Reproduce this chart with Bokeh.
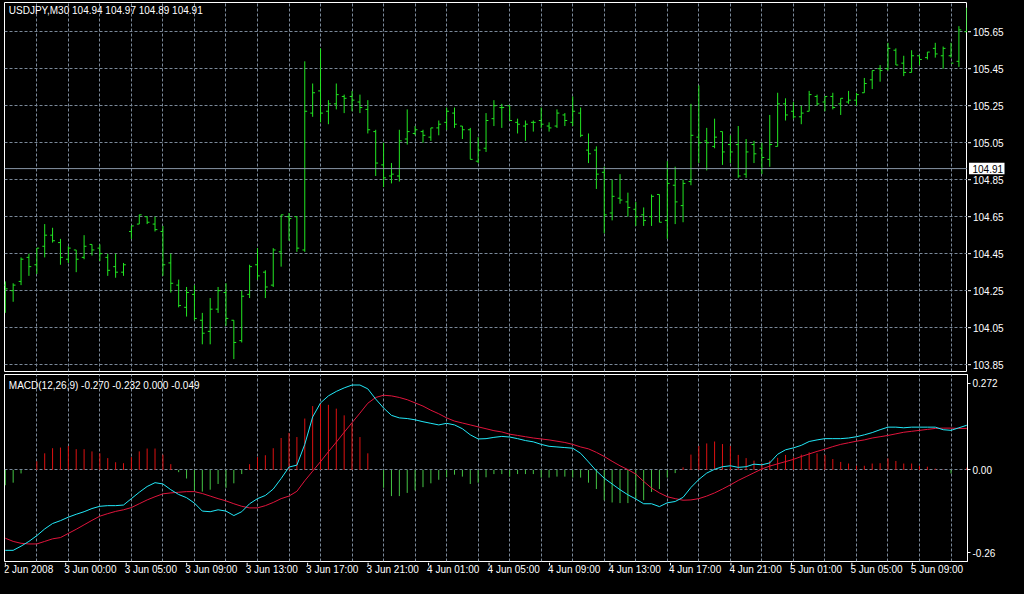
from bokeh.plotting import figure
from bokeh.layouts import column, row
from bokeh.models import (FixedTicker, Range1d, Span, Label, Grid)
from bokeh.embed import file_html
from bokeh.resources import INLINE

# ---------------- data (USDJPY M30 bars) ----------------
bar_open = [104.28, 104.25, 104.30, 104.43, 104.39, 104.49, 104.55, 104.51, 104.42, 104.47,
            104.43, 104.50, 104.48, 104.43, 104.38, 104.35, 104.57, 104.61, 104.65, 104.61,
            104.57, 104.40, 104.28, 104.16, 104.23, 104.09, 104.03, 104.15, 104.24, 104.09,
            103.98, 104.23, 104.39, 104.35, 104.28, 104.46, 104.65, 104.65, 104.47, 105.21,
            105.33, 105.22, 105.26, 105.30, 105.30, 105.27, 105.23, 105.11, 104.93, 104.87,
            104.87, 105.07, 105.10, 105.11, 105.08, 105.13, 105.16, 105.21, 105.14, 105.12,
            104.95, 105.02, 105.18, 105.24, 105.25, 105.16, 105.14, 105.16, 105.17, 105.14,
            105.14, 105.20, 105.16, 105.21, 105.01, 105.01, 104.89, 104.67, 104.75, 104.73,
            104.69, 104.66, 104.65, 104.77, 104.63, 104.82, 104.71, 104.84, 105.08, 105.06,
            105.03, 105.11, 105.04, 105.04, 104.88, 105.04, 105.02, 104.96, 105.03, 105.26,
            105.22, 105.19, 105.22, 105.30, 105.27, 105.30, 105.26, 105.27, 105.28, 105.32,
            105.39, 105.45, 105.45, 105.55, 105.48, 105.43, 105.52, 105.51, 105.56, 105.52,
            105.52, 105.49, 105.65]
bar_high = [104.30, 104.29, 104.43, 104.45, 104.48, 104.61, 104.59, 104.53, 104.49, 104.47,
            104.55, 104.50, 104.50, 104.45, 104.45, 104.40, 104.60, 104.66, 104.65, 104.65,
            104.60, 104.45, 104.31, 104.27, 104.28, 104.13, 104.21, 104.27, 104.29, 104.09,
            104.25, 104.39, 104.48, 104.36, 104.48, 104.66, 104.67, 104.65, 105.49, 105.37,
            105.56, 105.28, 105.37, 105.31, 105.33, 105.31, 105.28, 105.12, 105.05, 104.94,
            105.12, 105.23, 105.14, 105.12, 105.13, 105.17, 105.24, 105.24, 105.14, 105.13,
            105.08, 105.21, 105.28, 105.26, 105.25, 105.18, 105.17, 105.17, 105.24, 105.16,
            105.23, 105.21, 105.30, 105.24, 105.10, 105.03, 104.92, 104.85, 104.88, 104.78,
            104.73, 104.70, 104.77, 104.77, 104.95, 104.92, 104.85, 105.26, 105.36, 105.13,
            105.18, 105.11, 105.09, 105.14, 105.07, 105.06, 105.05, 105.20, 105.32, 105.29,
            105.27, 105.25, 105.33, 105.31, 105.30, 105.32, 105.29, 105.33, 105.32, 105.40,
            105.44, 105.47, 105.59, 105.56, 105.52, 105.55, 105.52, 105.54, 105.59, 105.57,
            105.59, 105.68, 105.78]
bar_low = [104.13, 104.19, 104.28, 104.33, 104.34, 104.43, 104.51, 104.39, 104.40, 104.35,
           104.42, 104.44, 104.41, 104.33, 104.32, 104.33, 104.53, 104.61, 104.61, 104.57,
           104.33, 104.24, 104.16, 104.11, 104.09, 103.96, 103.96, 104.13, 104.06, 103.88,
           103.97, 104.21, 104.31, 104.21, 104.27, 104.38, 104.52, 104.46, 104.46, 105.19,
           105.16, 105.15, 105.23, 105.21, 105.22, 105.21, 105.10, 104.87, 104.81, 104.83,
           104.84, 105.04, 105.09, 105.05, 105.06, 105.09, 105.12, 105.13, 105.07, 104.96,
           104.94, 105.00, 105.14, 105.13, 105.17, 105.10, 105.06, 105.11, 105.13, 105.11,
           105.13, 105.14, 105.14, 105.08, 104.94, 104.80, 104.56, 104.63, 104.72, 104.65,
           104.60, 104.60, 104.60, 104.62, 104.53, 104.61, 104.62, 104.82, 104.94, 104.90,
           105.02, 104.93, 104.94, 104.86, 104.86, 104.94, 104.88, 104.92, 105.03, 105.17,
           105.18, 105.15, 105.22, 105.25, 105.22, 105.23, 105.20, 105.26, 105.25, 105.32,
           105.34, 105.38, 105.44, 105.47, 105.41, 105.43, 105.47, 105.50, 105.51, 105.45,
           105.51, 105.46, 105.65]
bar_close = [104.26, 104.28, 104.42, 104.38, 104.48, 104.55, 104.52, 104.43, 104.48, 104.42,
             104.49, 104.47, 104.45, 104.36, 104.35, 104.39, 104.60, 104.66, 104.62, 104.58,
             104.39, 104.29, 104.17, 104.24, 104.10, 104.02, 104.15, 104.25, 104.10, 103.97,
             104.22, 104.38, 104.33, 104.27, 104.47, 104.66, 104.64, 104.48, 105.22, 105.32,
             105.21, 105.26, 105.31, 105.29, 105.28, 105.24, 105.12, 104.94, 104.86, 104.88,
             105.06, 105.11, 105.12, 105.09, 105.13, 105.15, 105.22, 105.15, 105.12, 104.96,
             105.01, 105.17, 105.25, 105.24, 105.17, 105.15, 105.15, 105.16, 105.15, 105.13,
             105.21, 105.17, 105.22, 105.09, 104.99, 104.88, 104.66, 104.76, 104.74, 104.70,
             104.65, 104.63, 104.76, 104.62, 104.83, 104.73, 104.83, 105.09, 105.05, 105.05,
             105.08, 105.00, 105.00, 104.87, 105.00, 104.99, 104.97, 105.04, 105.26, 105.20,
             105.19, 105.21, 105.31, 105.26, 105.30, 105.24, 105.29, 105.28, 105.31, 105.37,
             105.44, 105.44, 105.56, 105.47, 105.43, 105.52, 105.50, 105.54, 105.53, 105.56,
             105.48, 105.66, 105.65]

macd_main = [-0.252, -0.252, -0.239, -0.224, -0.206, -0.185, -0.168, -0.159, -0.148, -0.139,
             -0.131, -0.121, -0.114, -0.112, -0.112, -0.110, -0.090, -0.070, -0.052, -0.040,
             -0.044, -0.062, -0.077, -0.087, -0.104, -0.129, -0.131, -0.125, -0.129, -0.143,
             -0.131, -0.106, -0.090, -0.080, -0.060, -0.027, 0.009, 0.015, 0.080, 0.166,
             0.210, 0.232, 0.246, 0.257, 0.266, 0.266, 0.254, 0.222, 0.194, 0.171,
             0.163, 0.161, 0.157, 0.151, 0.146, 0.141, 0.146, 0.141, 0.129, 0.110,
             0.097, 0.098, 0.102, 0.105, 0.103, 0.098, 0.092, 0.088, 0.080, 0.074,
             0.072, 0.070, 0.068, 0.052, 0.025, -0.003, -0.026, -0.044, -0.062, -0.078,
             -0.091, -0.106, -0.106, -0.115, -0.103, -0.099, -0.086, -0.055, -0.030, -0.010,
             0.002, 0.010, 0.013, 0.008, 0.010, 0.018, 0.016, 0.022, 0.049, 0.063,
             0.069, 0.077, 0.089, 0.094, 0.098, 0.098, 0.098, 0.100, 0.104, 0.110,
             0.117, 0.126, 0.134, 0.134, 0.132, 0.134, 0.134, 0.134, 0.134, 0.126,
             0.124, 0.132, 0.140]
macd_signal = [-0.214, -0.224, -0.230, -0.232, -0.232, -0.224, -0.216, -0.212, -0.199, -0.186,
               -0.172, -0.158, -0.145, -0.137, -0.130, -0.125, -0.118, -0.106, -0.094, -0.084,
               -0.075, -0.072, -0.070, -0.068, -0.068, -0.074, -0.082, -0.090, -0.097, -0.106,
               -0.114, -0.119, -0.119, -0.112, -0.102, -0.090, -0.082, -0.067, -0.034, -0.004,
               0.026, 0.057, 0.087, 0.118, 0.148, 0.178, 0.209, 0.227, 0.234, 0.232,
               0.227, 0.220, 0.210, 0.200, 0.187, 0.176, 0.163, 0.153, 0.147, 0.141,
               0.135, 0.129, 0.123, 0.119, 0.112, 0.108, 0.104, 0.100, 0.097, 0.094,
               0.090, 0.086, 0.080, 0.072, 0.066, 0.055, 0.042, 0.027, 0.013, 0.001,
               -0.013, -0.036, -0.057, -0.072, -0.084, -0.090, -0.095, -0.094, -0.090, -0.082,
               -0.072, -0.060, -0.047, -0.033, -0.021, -0.009, 0.003, 0.012, 0.019, 0.026,
               0.033, 0.042, 0.050, 0.058, 0.065, 0.073, 0.080, 0.085, 0.090, 0.094,
               0.100, 0.104, 0.108, 0.113, 0.118, 0.121, 0.124, 0.127, 0.130, 0.131,
               0.131, 0.130, 0.130]
macd_hist = [-0.048, -0.040, -0.011, 0.000, 0.027, 0.052, 0.068, 0.070, 0.075, 0.065,
             0.065, 0.058, 0.052, 0.037, 0.024, 0.021, 0.040, 0.058, 0.067, 0.067,
             0.048, 0.018, -0.007, -0.027, -0.064, -0.068, -0.062, -0.044, -0.056, -0.042,
             -0.013, 0.018, 0.040, 0.046, 0.068, 0.100, 0.116, 0.103, 0.161, 0.200,
             0.210, 0.204, 0.192, 0.171, 0.146, 0.103, 0.052, 0.000, -0.056, -0.082,
             -0.082, -0.072, -0.064, -0.054, -0.042, -0.031, -0.023, -0.015, -0.021, -0.044,
             -0.040, -0.023, -0.013, -0.013, -0.021, -0.013, -0.013, -0.013, -0.024, -0.024,
             -0.021, -0.021, -0.024, -0.024, -0.040, -0.060, -0.095, -0.102, -0.104, -0.104,
             -0.090, -0.095, -0.069, -0.060, -0.024, -0.010, 0.008, 0.048, 0.075, 0.083,
             0.089, 0.081, 0.075, 0.047, 0.037, 0.029, 0.021, 0.029, 0.038, 0.047,
             0.040, 0.048, 0.055, 0.052, 0.047, 0.034, 0.025, 0.020, 0.013, 0.013,
             0.020, 0.021, 0.036, 0.028, 0.020, 0.020, 0.013, 0.010, 0.004, 0.001,
             -0.011, 0.000, 0.007]

price_ticks = [103.85, 104.05, 104.25, 104.45, 104.65, 104.85, 105.05, 105.25, 105.45, 105.65]
price_tick_labels = ["103.85", "104.05", "104.25", "104.45", "104.65", "104.85", "105.05",
                     "105.25", "105.45", "105.65"]
macd_ticks = [-0.26, 0.0, 0.272]
macd_tick_labels = ["-0.26", "0.00", "0.272"]
time_tick_bars = [0, 8, 16, 24, 32, 40, 48, 56, 64, 72, 80, 88, 96, 104, 112, 120]
time_tick_labels = ["2 Jun 2008", "3 Jun 00:00", "3 Jun 05:00", "3 Jun 09:00", "3 Jun 13:00",
                    "3 Jun 17:00", "3 Jun 21:00", "4 Jun 01:00", "4 Jun 05:00", "4 Jun 09:00",
                    "4 Jun 13:00", "4 Jun 17:00", "4 Jun 21:00", "5 Jun 01:00", "5 Jun 05:00",
                    "5 Jun 09:00"]
grid_bars = list(range(4, 121, 4))
bid_price = 104.91
bid_label = "104.91"
title_main = "USDJPY,M30  104.94 104.97 104.89 104.91"
title_macd = "MACD(12,26,9) -0.270 -0.232 0.000 -0.049"

# ---------------- styling ----------------
BG = "#000000"
GRID = "#7a8899"
BAR = "#22e622"
CYAN = "#22e8f8"
SIGNAL = "#e0143c"
HIST_UP = "#dd1111"
HIST_DN = "#44c444"
FONT = "Liberation Sans"
FS = "10px"
TFS = "10px"

n = len(bar_close)
idx = list(range(n))
FRAME_W = 963
X0, X1 = -0.1, n - 1 + 0.09
PX_PER_BAR = FRAME_W / (X1 - X0)
x_rng = Range1d(X0, X1)
y_price = Range1d(103.813, 105.808)


def add_grids(p, yticks):
    p.grid.visible = False
    p.add_layout(Grid(dimension=0, ticker=FixedTicker(ticks=grid_bars), grid_line_color=GRID,
                      grid_line_dash="3 2", grid_line_width=1))
    p.add_layout(Grid(dimension=1, ticker=FixedTicker(ticks=yticks), grid_line_color=GRID,
                      grid_line_dash="3 2", grid_line_width=1))


# ---------------- price panel ----------------
p1 = figure(width=4 + FRAME_W, height=372, x_range=x_rng, y_range=y_price,
            y_axis_location=None, x_axis_location=None,
            output_backend="svg", toolbar_location=None,
            min_border_left=4, min_border_right=0, min_border_top=2, min_border_bottom=1,
            background_fill_color=BG, border_fill_color=BG, outline_line_color="white")
add_grids(p1, price_ticks)
p1.add_layout(Span(location=bid_price, dimension="width", line_color="#8796a6", line_width=1))

x_open = [i - 0.3 for i in idx]
x_close = [i + 0.3 for i in idx]
p1.segment(x0=idx, y0=bar_low, x1=idx, y1=bar_high, line_color=BAR, line_width=1)
p1.segment(x0=x_open, y0=bar_open, x1=idx, y1=bar_open, line_color=BAR, line_width=1)
p1.segment(x0=idx, y0=bar_close, x1=x_close, y1=bar_close, line_color=BAR, line_width=1)

p1.add_layout(Label(x=0.45, y=105.765, text=title_main, text_color="white", text_font=FONT,
                    text_font_size=TFS, text_baseline="middle", text_align="left"))

# price scale strip (right of the price panel), x in pixels
AX_W = 1008 - (4 + FRAME_W)
p1r = figure(width=AX_W, height=372, x_range=Range1d(0, AX_W), y_range=y_price,
             y_axis_location=None, x_axis_location=None,
             output_backend="svg", toolbar_location=None,
             min_border_left=0, min_border_right=0, min_border_top=2, min_border_bottom=1,
             background_fill_color=BG, border_fill_color=BG, outline_line_color=None)
p1r.grid.visible = False
p1r.segment(x0=[0.5] * len(price_ticks), y0=price_ticks, x1=[3.5] * len(price_ticks),
            y1=price_ticks, line_color="white", line_width=1)
p1r.text(x=[5.5] * len(price_ticks), y=price_ticks, text=price_tick_labels,
         text_color="white", text_font={"value": FONT}, text_font_size={"value": FS},
         text_baseline="middle", text_align="left")
p1r.quad(left=[1.5], right=[37.0], bottom=[bid_price - 0.031], top=[bid_price + 0.031],
         fill_color="white", line_color=None)
p1r.text(x=[5.0], y=[bid_price], text=[bid_label], text_color="black",
         text_font={"value": FONT}, text_font_size={"value": FS},
         text_baseline="middle", text_align="left")

# ---------------- MACD panel ----------------
p2 = figure(width=1008, height=190, x_range=x_rng, y_range=Range1d(-0.287, 0.299),
            y_axis_location="right", x_axis_location=None,
            output_backend="svg", toolbar_location=None,
            min_border_left=4, min_border_right=AX_W, min_border_top=2, min_border_bottom=1,
            background_fill_color=BG, border_fill_color=BG, outline_line_color="white")
add_grids(p2, [0.0])
p2.yaxis.ticker = FixedTicker(ticks=macd_ticks)
p2.yaxis.major_label_overrides = {t: s for t, s in zip(macd_ticks, macd_tick_labels)}
p2.yaxis.axis_line_color = "white"
p2.yaxis.major_tick_line_color = "white"
p2.yaxis.major_tick_out = 3
p2.yaxis.major_tick_in = 0
p2.yaxis.minor_tick_line_color = None
p2.yaxis.major_label_text_color = "white"
p2.yaxis.major_label_text_font = FONT
p2.yaxis.major_label_text_font_size = FS
p2.yaxis.major_label_standoff = 2

hist_colors = [HIST_UP if h >= 0 else HIST_DN for h in macd_hist]
zeros = [0.0] * n
p2.segment(x0=idx, y0=zeros, x1=idx, y1=macd_hist, line_color=hist_colors, line_width=1)
p2.line(idx, macd_signal, line_color=SIGNAL, line_width=1)
p2.line(idx, macd_main, line_color=CYAN, line_width=1)

p2.add_layout(Label(x=0.45, y=0.265, text=title_macd, text_color="white", text_font=FONT,
                    text_font_size=TFS, text_baseline="middle", text_align="left"))

# ---------------- time scale strip ----------------
STRIP_H = 16
p3 = figure(width=1008, height=STRIP_H,
            x_range=Range1d(X0, X0 + (1008 - 4) / PX_PER_BAR), y_range=Range1d(0, STRIP_H),
            y_axis_location=None, x_axis_location=None,
            output_backend="svg", toolbar_location=None,
            min_border_left=4, min_border_right=0, min_border_top=0, min_border_bottom=0,
            background_fill_color=BG, border_fill_color=BG, outline_line_color=None)
p3.grid.visible = False
p3.segment(x0=time_tick_bars, y0=[STRIP_H] * len(time_tick_bars), x1=time_tick_bars,
           y1=[STRIP_H - 3] * len(time_tick_bars), line_color="white", line_width=1)
p3.text(x=[b - 0.2 for b in time_tick_bars], y=[STRIP_H - 6.5] * len(time_tick_bars),
        text=time_tick_labels, text_color="white", text_font={"value": FONT},
        text_font_size={"value": FS}, text_baseline="middle", text_align="left")

layout = column(row(p1, p1r, spacing=0), p2, p3, spacing=0)
try:
    from bokeh.models import GlobalInlineStyleSheet
    layout.stylesheets = [GlobalInlineStyleSheet(css="html, body { background-color: #000000; }")]
except Exception:
    pass

open("out.html", "w").write(file_html(layout, INLINE))
